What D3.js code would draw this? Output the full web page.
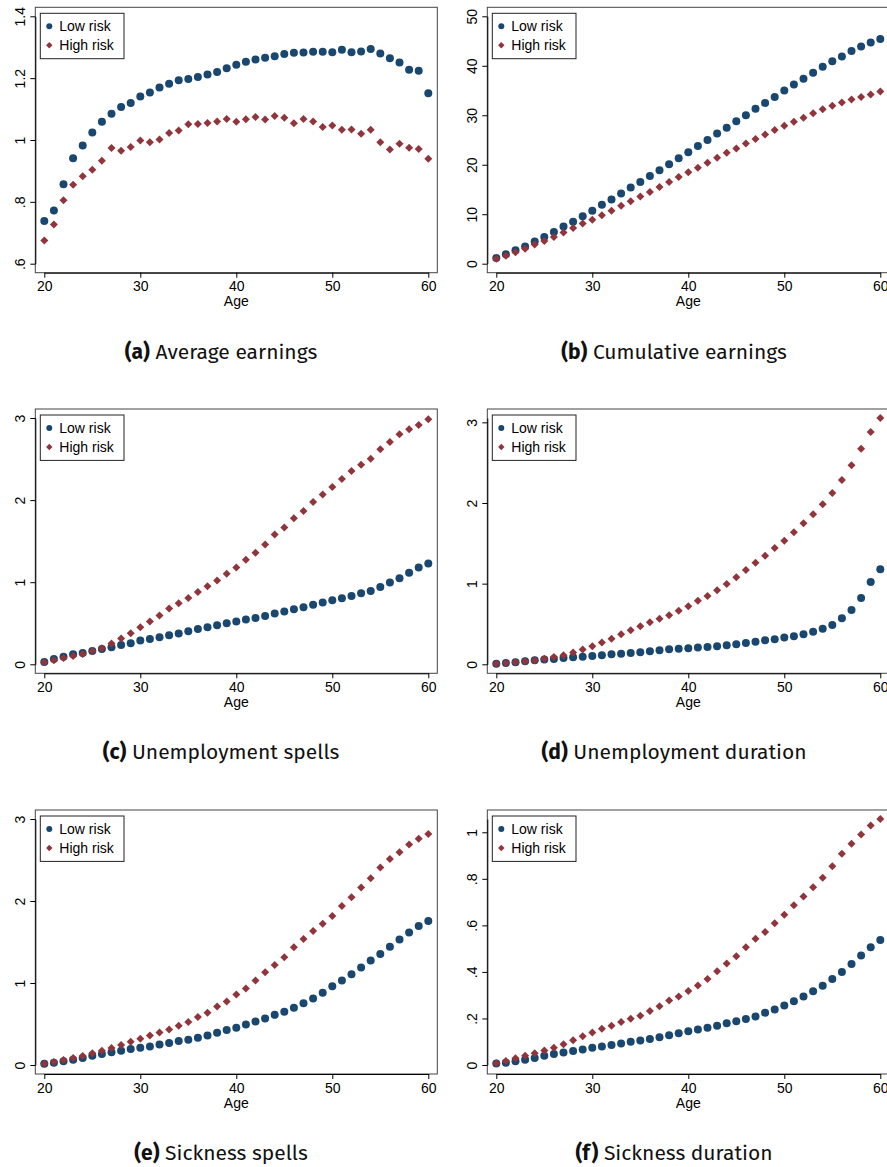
<!DOCTYPE html>
<html>
<head>
<meta charset="utf-8">
<script src="https://cdn.jsdelivr.net/npm/d3@7"></script>
<style>
  html, body { margin: 0; padding: 0; background: #fff; }
  svg { display: block; }
  .axis text { font-family: "Liberation Sans", Arial, sans-serif; font-size: 14px; fill: #000; }
  .caption { font-family: "Fira Sans", "Open Sans", "Noto Sans", sans-serif; font-size: 21px; fill: #111; }
</style>
</head>
<body>
<svg id="chart" width="887" height="1167"></svg>
<script>
// Age grid shared by all six panels
const ages = [20,21,22,23,24,25,26,27,28,29,30,31,32,33,34,35,36,37,38,39,40,
              41,42,43,44,45,46,47,48,49,50,51,52,53,54,55,56,57,58,59,60];

// (a) Average earnings
const avgEarnLow = [0.738,0.772,0.857,0.941,0.982,1.024,1.059,1.085,1.107,1.120,1.141,1.154,1.170,1.182,1.193,1.197,1.204,1.212,1.220,1.232,1.243,
                    1.253,1.260,1.266,1.271,1.278,1.282,1.283,1.285,1.285,1.284,1.292,1.284,1.286,1.294,1.280,1.264,1.251,1.227,1.224,1.151];
const avgEarnHigh = [0.675,0.727,0.805,0.855,0.883,0.904,0.933,0.974,0.965,0.977,0.998,0.993,1.002,1.023,1.031,1.051,1.052,1.055,1.060,1.068,1.059,
                     1.067,1.074,1.066,1.078,1.072,1.054,1.068,1.060,1.042,1.047,1.033,1.034,1.020,1.033,0.993,0.969,0.988,0.975,0.971,0.939];

// (b) Cumulative earnings
const cumEarnLow = [1.15,1.9,2.7,3.5,4.5,5.4,6.4,7.5,8.5,9.6,10.7,11.9,13.0,14.2,15.4,16.5,17.7,18.9,20.1,21.3,22.5,
                    23.8,25.0,26.3,27.5,28.8,30.0,31.3,32.5,33.7,35.0,36.2,37.4,38.6,39.8,40.9,41.9,43.0,43.9,44.7,45.4];
const cumEarnHigh = [1.0,1.6,2.3,3.0,3.9,4.6,5.4,6.3,7.2,8.1,8.9,9.8,10.7,11.7,12.6,13.6,14.5,15.5,16.5,17.5,18.5,
                     19.4,20.4,21.4,22.4,23.3,24.3,25.2,26.1,27.0,27.9,28.7,29.5,30.4,31.2,31.9,32.6,33.2,33.7,34.2,34.8];

// (c) Unemployment spells
const unempSpellsLow = [0.028,0.065,0.093,0.122,0.138,0.163,0.187,0.207,0.236,0.256,0.289,0.309,0.329,0.354,0.374,0.402,0.431,0.451,0.476,0.500,0.520,
                        0.545,0.565,0.589,0.618,0.642,0.671,0.695,0.724,0.752,0.780,0.805,0.833,0.866,0.894,0.943,0.996,1.049,1.114,1.179,1.228];
const unempSpellsHigh = [0.024,0.049,0.077,0.102,0.126,0.163,0.195,0.252,0.313,0.378,0.451,0.520,0.593,0.679,0.744,0.809,0.882,0.951,1.020,1.102,1.179,
                         1.272,1.358,1.459,1.581,1.667,1.780,1.866,1.976,2.069,2.159,2.256,2.354,2.431,2.504,2.618,2.707,2.801,2.862,2.915,2.984];

// (d) Unemployment duration
const unempDurLow = [0.008,0.017,0.025,0.037,0.050,0.058,0.066,0.079,0.087,0.095,0.103,0.112,0.124,0.132,0.140,0.149,0.161,0.174,0.186,0.194,0.198,
                     0.207,0.215,0.223,0.236,0.248,0.264,0.281,0.298,0.310,0.331,0.347,0.372,0.405,0.442,0.488,0.570,0.674,0.822,1.021,1.178];
const unempDurHigh = [0.008,0.017,0.025,0.037,0.050,0.070,0.091,0.112,0.145,0.182,0.223,0.269,0.318,0.372,0.421,0.471,0.521,0.566,0.607,0.665,0.719,
                      0.789,0.847,0.917,0.996,1.079,1.169,1.260,1.347,1.442,1.533,1.636,1.748,1.860,1.983,2.124,2.285,2.467,2.674,2.880,3.054];

// (e) Sickness spells
const sickSpellsLow = [0.016,0.028,0.045,0.065,0.085,0.113,0.134,0.154,0.174,0.195,0.211,0.227,0.251,0.268,0.292,0.308,0.332,0.361,0.393,0.426,0.454,
                       0.495,0.531,0.567,0.612,0.649,0.697,0.754,0.811,0.880,0.961,1.030,1.107,1.188,1.273,1.354,1.443,1.532,1.617,1.694,1.755];
const sickSpellsHigh = [0.016,0.036,0.061,0.085,0.109,0.142,0.174,0.207,0.243,0.284,0.320,0.361,0.397,0.434,0.478,0.523,0.584,0.636,0.713,0.774,0.859,
                        0.932,1.030,1.131,1.220,1.313,1.435,1.536,1.634,1.723,1.816,1.938,2.047,2.165,2.278,2.408,2.513,2.594,2.688,2.760,2.817];

// (f) Sickness duration
const sickDurLow = [0.006,0.010,0.016,0.023,0.030,0.040,0.047,0.054,0.060,0.067,0.074,0.080,0.086,0.092,0.100,0.105,0.112,0.119,0.128,0.136,0.145,
                    0.152,0.160,0.169,0.179,0.188,0.198,0.208,0.225,0.239,0.256,0.274,0.294,0.317,0.341,0.370,0.400,0.434,0.470,0.506,0.537];
const sickDurHigh = [0.007,0.017,0.029,0.040,0.050,0.062,0.074,0.089,0.106,0.123,0.140,0.156,0.169,0.185,0.199,0.212,0.232,0.252,0.277,0.294,0.318,
                     0.342,0.370,0.403,0.436,0.467,0.506,0.542,0.572,0.609,0.646,0.686,0.724,0.764,0.805,0.854,0.908,0.951,0.990,1.029,1.057];

// Axis ticks and their printed labels
const xTicks = [20, 30, 40, 50, 60];
const ticksA = [0.6, 0.8, 1, 1.2, 1.4];   const labelsA = [".6", ".8", "1", "1.2", "1.4"];
const ticksB = [0, 10, 20, 30, 40, 50];   const labelsB = ["0", "10", "20", "30", "40", "50"];
const ticksC = [0, 1, 2, 3];              const labelsC = ["0", "1", "2", "3"];
const ticksD = [0, 1, 2, 3];              const labelsD = ["0", "1", "2", "3"];
const ticksE = [0, 1, 2, 3];              const labelsE = ["0", "1", "2", "3"];
const ticksF = [0, 0.2, 0.4, 0.6, 0.8, 1]; const labelsF = ["0", ".2", ".4", ".6", ".8", "1"];

const seriesNames = ["Low risk", "High risk"];
const tags = ["(a)", "(b)", "(c)", "(d)", "(e)", "(f)"];
const titles = ["Average earnings", "Cumulative earnings", "Unemployment spells",
                "Unemployment duration", "Sickness spells", "Sickness duration"];

const panels = [
  { low: avgEarnLow,     high: avgEarnHigh,     ticks: ticksA, labels: labelsA },
  { low: cumEarnLow,     high: cumEarnHigh,     ticks: ticksB, labels: labelsB },
  { low: unempSpellsLow, high: unempSpellsHigh, ticks: ticksC, labels: labelsC },
  { low: unempDurLow,    high: unempDurHigh,    ticks: ticksD, labels: labelsD },
  { low: sickSpellsLow,  high: sickSpellsHigh,  ticks: ticksE, labels: labelsE },
  { low: sickDurLow,     high: sickDurHigh,     ticks: ticksF, labels: labelsF }
];

// ---- layout ----
const navy = "#1a476f", maroon = "#90353b";
const colLeft = [35.3, 487.3];
const rowTop = [7.3, 409, 810];
const rowHeight = [265.4, 264.3, 264];
const frameW = 402;
const pad = 9;                 // inner margin between frame and data range
const captionX = [221, 674];
const captionDy = 86;          // caption baseline below frame bottom

const svg = d3.select("#chart");

// Stata-style diamond (rotated square)
function diamondPath(r) {
  return `M0,${-r}L${r},0L0,${r}L${-r},0Z`;
}

panels.forEach((p, i) => {
  const col = i % 2, row = Math.floor(i / 2);
  const left = colLeft[col], top = rowTop[row];
  const right = left + frameW, bottom = top + rowHeight[row];

  const allVals = p.low.concat(p.high);
  const yLo = Math.min(d3.min(p.ticks), d3.min(allVals));
  const yHi = Math.max(d3.max(p.ticks), d3.max(allVals));

  const x = d3.scaleLinear().domain([20, 60]).range([left + pad, right - pad]);
  const y = d3.scaleLinear().domain([yLo, yHi]).range([bottom - pad, top + pad]);

  const g = svg.append("g");

  // plot region outline
  g.append("rect")
    .attr("x", left).attr("y", top)
    .attr("width", right - left).attr("height", bottom - top)
    .attr("fill", "none").attr("stroke", "#444").attr("stroke-width", 1);

  // x axis
  const xAxis = g.append("g").attr("class", "axis")
    .attr("transform", `translate(0,${bottom})`)
    .call(d3.axisBottom(x).tickValues(xTicks).tickSize(5).tickSizeOuter(0).tickPadding(4));
  xAxis.select(".domain").attr("stroke", "#000");
  xAxis.selectAll(".tick line").attr("stroke", "#000");
  xAxis.selectAll("text").attr("dy", null).attr("y", 18.7);

  // y axis with rotated tick labels
  const yAxis = g.append("g").attr("class", "axis")
    .attr("transform", `translate(${left},0)`)
    .call(d3.axisLeft(y).tickValues(p.ticks).tickFormat((d, k) => p.labels[k]).tickSize(5).tickSizeOuter(0));
  yAxis.select(".domain").attr("stroke", "#000");
  yAxis.selectAll(".tick line").attr("stroke", "#000");
  yAxis.selectAll(".tick text")
    .attr("x", null).attr("dy", null)
    .attr("text-anchor", "middle")
    .attr("transform", "translate(-10,0) rotate(-90)");

  // x axis title
  g.append("text").attr("class", "axis")
    .attr("x", (left + right) / 2).attr("y", bottom + 33.5)
    .attr("text-anchor", "middle")
    .style("font-family", "'Liberation Sans', Arial, sans-serif")
    .style("font-size", "14px")
    .text("Age");

  // markers: low risk circles, high risk diamonds
  const clip = "clip" + i;
  svg.append("clipPath").attr("id", clip)
    .append("rect").attr("x", left).attr("y", top).attr("width", 887 - left).attr("height", bottom - top);

  const marks = g.append("g").attr("clip-path", `url(#${clip})`);
  marks.selectAll("circle.low").data(p.low).join("circle")
    .attr("class", "low")
    .attr("cx", (d, k) => x(ages[k])).attr("cy", d => y(d))
    .attr("r", 4).attr("fill", navy);
  marks.selectAll("path.high").data(p.high).join("path")
    .attr("class", "high")
    .attr("d", diamondPath(4))
    .attr("transform", (d, k) => `translate(${x(ages[k])},${y(d)})`)
    .attr("fill", maroon);

  // legend
  const lg = g.append("g").attr("transform", `translate(${left + 5},${top + 6})`);
  lg.append("rect").attr("width", 83.7).attr("height", 45.4)
    .attr("fill", "#fff").attr("stroke", "#222").attr("stroke-width", 1);
  lg.append("circle").attr("cx", 9).attr("cy", 13).attr("r", 3).attr("fill", navy);
  lg.append("path").attr("d", diamondPath(3.2)).attr("transform", "translate(9,32)").attr("fill", maroon);
  seriesNames.forEach((name, k) => {
    lg.append("text")
      .attr("x", 19).attr("y", 17.7 + 19 * k)
      .style("font-family", "'Liberation Sans', Arial, sans-serif")
      .style("font-size", "14px")
      .attr("fill", "#000")
      .text(name);
  });

  // caption below the panel
  const cap = svg.append("text").attr("class", "caption")
    .attr("x", captionX[col]).attr("y", bottom + captionDy)
    .attr("text-anchor", "middle");
  cap.append("tspan").attr("font-weight", "bold").text(tags[i]);
  cap.append("tspan").text(" " + titles[i]);
});
</script>
</body>
</html>
